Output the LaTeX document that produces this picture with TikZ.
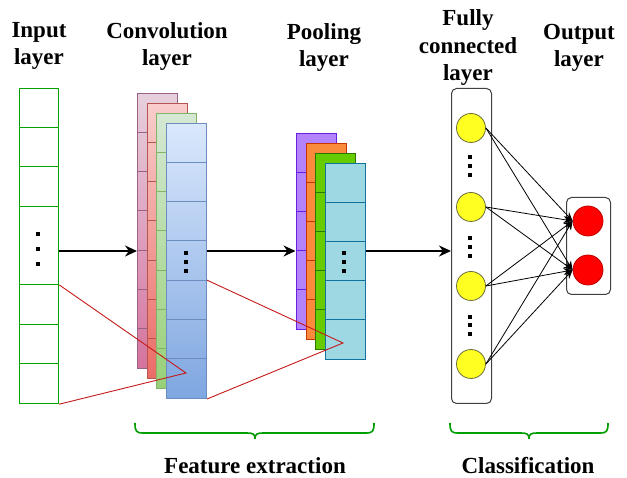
\documentclass[tikz,border=0pt]{standalone}
\usepackage{fontspec}
\setmainfont{Liberation Serif}
\usetikzlibrary{arrows.meta}
\definecolor{ingreen}{HTML}{00A300}
\definecolor{pinkA}{HTML}{E6D0DE}\definecolor{pinkB}{HTML}{D5739D}\definecolor{pinkS}{HTML}{996185}
\definecolor{redA}{HTML}{F8CECC}\definecolor{redB}{HTML}{EA6B66}\definecolor{redS}{HTML}{B85450}
\definecolor{grnA}{HTML}{D5E8D4}\definecolor{grnB}{HTML}{97D077}\definecolor{grnS}{HTML}{82B366}
\definecolor{bluA}{HTML}{DAE8FC}\definecolor{bluB}{HTML}{7EA6E0}\definecolor{bluS}{HTML}{6C8EBF}
\definecolor{purF}{HTML}{B383FF}\definecolor{purS}{HTML}{6A1FE0}
\definecolor{orgF}{HTML}{FA8A3C}\definecolor{orgS}{HTML}{C73500}
\definecolor{lgrF}{HTML}{66CC00}\definecolor{lgrS}{HTML}{2D7600}
\definecolor{cyaF}{HTML}{9ED9E3}\definecolor{cyaS}{HTML}{10739E}
\definecolor{ylwF}{HTML}{FFFF22}\definecolor{ylwS}{HTML}{6E6E3A}
\definecolor{outF}{HTML}{FF0000}\definecolor{outS}{HTML}{C00000}
\definecolor{tri}{HTML}{C41A1A}
\definecolor{brc}{HTML}{009E00}
\tikzset{
  lbl/.style={font=\fontsize{23}{27.5}\selectfont\bfseries, align=center, inner sep=0pt, anchor=base},
  stack/.style={draw, inner sep=0pt, line width=1pt, anchor=north west, minimum width=40pt},
  mainarrow/.style={line width=2pt, -{Stealth[length=12pt,width=11pt]}},
  fcarrow/.style={line width=0.8pt, -{Stealth[length=9pt,width=7pt]}},
  neuron/.style={circle, draw, line width=0.8pt, inner sep=0pt},
  triline/.style={draw=tri, line width=0.9pt},
  brace/.style={draw=brc, line width=1.6pt},
  frame/.style={draw=black!75, line width=1pt, rounded corners=5pt, inner sep=0pt, anchor=north west, fill=white}
}
\newcommand\vdot[2]{\fill (#1-1.6,#2-1.6) rectangle ++(3.2,3.2);}
\begin{document}
\begin{tikzpicture}[x=1pt,y=-1pt]
\useasboundingbox (0,0) rectangle (627,478);
\coordinate (row) at (0,251);

% headers (anchor = baseline of last line)
\node[lbl] (hin) at (39,65) {Input\\layer};
\node[lbl] (hconv) at (167,66) {Convolution\\layer};
\node[lbl] (hpool) at (324,67) {Pooling\\layer};
\node[lbl] (hfc) at (468,81) {Fully\\connected\\layer};
\node[lbl] (hout) at (579,67) {Output\\layer};

% input layer
\node[draw=ingreen, line width=1.2pt, inner sep=0pt, anchor=north west, minimum width=39pt, minimum height=315pt] (input) at (19,88) {};
\foreach \k in {1,2,3,5,6,7}
  \draw[ingreen, line width=1.2pt] (19,{88+39.375*\k}) -- (58,{88+39.375*\k});
\vdot{38}{234}\vdot{38}{249}\vdot{38}{264}

% convolution layer
\node[stack, draw=pinkS, top color=pinkA, bottom color=pinkB, minimum height=275pt] (cpink) at (137,93) {};
\foreach \k in {1,...,6} \draw[pinkS, line width=1pt] (137,{93+275/7*\k}) -- ++(40,0);
\node[stack, draw=redS, top color=redA, bottom color=redB, minimum height=275pt] (cred) at (146.5,103) {};
\foreach \k in {1,...,6} \draw[redS, line width=1pt] (146.5,{103+275/7*\k}) -- ++(40,0);
\node[stack, draw=grnS, top color=grnA, bottom color=grnB, minimum height=275pt] (cgrn) at (156,113) {};
\foreach \k in {1,...,6} \draw[grnS, line width=1pt] (156,{113+275/7*\k}) -- ++(40,0);
\node[stack, draw=bluS, top color=bluA, bottom color=bluB, minimum height=275pt] (cblu) at (166,123) {};
\foreach \k in {1,...,6} \draw[bluS, line width=1pt] (166,{123+275/7*\k}) -- ++(40,0);
\vdot{186}{253}\vdot{186}{262}\vdot{186}{271}

% pooling layer
\node[stack, draw=purS, fill=purF, minimum height=196pt] (ppur) at (295.5,133) {};
\foreach \k in {1,...,4} \draw[purS, line width=1pt] (295.5,{133+39.2*\k}) -- ++(40,0);
\node[stack, draw=orgS, fill=orgF, minimum height=196pt] (porg) at (305.5,143) {};
\foreach \k in {1,...,4} \draw[orgS, line width=1pt] (305.5,{143+39.2*\k}) -- ++(40,0);
\node[stack, draw=lgrS, fill=lgrF, minimum height=196pt] (plgr) at (315,153) {};
\foreach \k in {1,...,4} \draw[lgrS, line width=1pt] (315,{153+39.2*\k}) -- ++(40,0);
\node[stack, draw=cyaS, fill=cyaF, minimum height=196pt] (pcya) at (325,163) {};
\foreach \k in {1,...,4} \draw[cyaS, line width=1pt] (325,{163+39.2*\k}) -- ++(40,0);
\vdot{344}{253}\vdot{344}{262}\vdot{344}{271}

% fully connected layer
\node[frame, minimum width=40pt, minimum height=315pt] (fc) at (451,88) {};
\node[neuron, draw=ylwS, fill=ylwF, minimum size=29pt] (y1) at (471,128) {};
\node[neuron, draw=ylwS, fill=ylwF, minimum size=29pt] (y2) at (471,207) {};
\node[neuron, draw=ylwS, fill=ylwF, minimum size=29pt] (y3) at (471,286) {};
\node[neuron, draw=ylwS, fill=ylwF, minimum size=29pt] (y4) at (471,364) {};
\vdot{470}{157}\vdot{470}{166}\vdot{470}{175}
\vdot{470}{238}\vdot{470}{247}\vdot{470}{256}
\vdot{470}{317}\vdot{470}{325}\vdot{470}{334}

% output layer
\node[frame, minimum width=44pt, minimum height=97pt] (outbox) at (566,197) {};
\node[neuron, draw=outS, fill=outF, minimum size=30pt] (r1) at (588,221) {};
\node[neuron, draw=outS, fill=outF, minimum size=30pt] (r2) at (588,270) {};

% main arrows
\draw[mainarrow] (input.east |- row) -- (cpink.west |- row);
\draw[mainarrow] (cblu.east |- row) -- (ppur.west |- row);
\draw[mainarrow] (pcya.east |- row) -- (fc.west |- row);

% fully connected arrows
\foreach \a in {y1,y2,y3,y4} {
  \draw[fcarrow] (\a.east) -- (r1.west);
  \draw[fcarrow] (\a.east) -- (r2.west);
}

% receptive field lines
\coordinate (apex1) at (186,373);
\coordinate (apex2) at (343,343);
\draw[triline] ([yshift=-196.875pt]input.north east) -- (apex1) -- (input.south east);
\draw[triline] ([yshift={-275/7*4}]cblu.north east) -- (apex2) -- (cblu.south east);

% braces
\draw[brace] (135,423) .. controls (135,431) and (136,433) .. (143,433) -- (247,433)
  .. controls (253,433) and (255,434) .. (255,439);
\draw[brace] (374,423) .. controls (374,431) and (373,433) .. (366,433) -- (263,433)
  .. controls (257,433) and (255,434) .. (255,439);
\draw[brace] (450,423) .. controls (450,431) and (451,433) .. (458,433) -- (521,433)
  .. controls (527,433) and (529,434) .. (529,439);
\draw[brace] (608,423) .. controls (608,431) and (607,433) .. (600,433) -- (537,433)
  .. controls (531,433) and (529,434) .. (529,439);

% bottom labels
\node[lbl] (lfe) at (255,474) {Feature extraction};
\node[lbl] (lcl) at (528,474) {Classification};
\end{tikzpicture}
\end{document}
